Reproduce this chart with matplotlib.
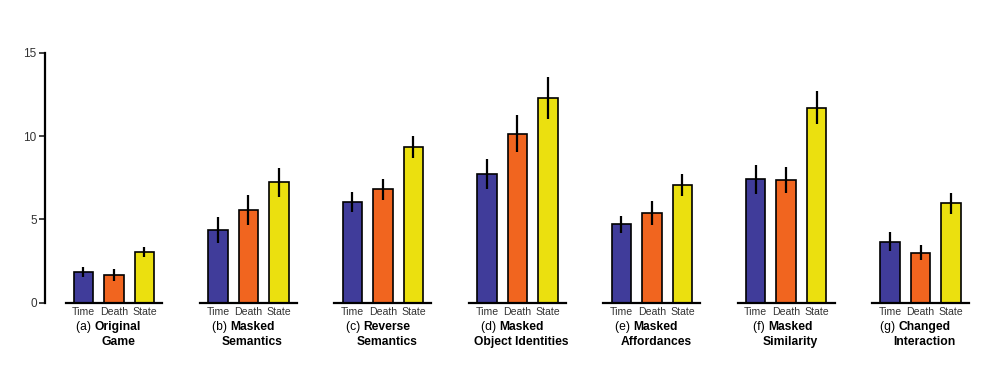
import numpy as np
import matplotlib.pyplot as plt

plt.rcParams['font.family'] = ['Liberation Sans', 'DejaVu Sans']

conditions = ['(a)', '(b)', '(c)', '(d)', '(e)', '(f)', '(g)']
line1 = ['Original', 'Masked', 'Reverse', 'Masked', 'Masked', 'Masked', 'Changed']
line2 = ['Game', 'Semantics', 'Semantics', 'Object Identities', 'Affordances', 'Similarity', 'Interaction']
measures = ['Time', 'Death', 'State']

time_vals = [1.86, 4.36, 6.04, 7.72, 4.70, 7.40, 3.66]
death_vals = [1.66, 5.56, 6.80, 10.14, 5.38, 7.38, 3.00]
state_vals = [3.04, 7.22, 9.34, 12.28, 7.06, 11.70, 5.96]
time_err = [0.30, 0.76, 0.62, 0.92, 0.52, 0.88, 0.56]
death_err = [0.35, 0.90, 0.64, 1.12, 0.74, 0.78, 0.46]
state_err = [0.32, 0.88, 0.66, 1.24, 0.66, 0.98, 0.64]

colors = ['#403c9a', '#f1651f', '#ebe00f']

fig = plt.figure(figsize=(10, 3.66), dpi=100)
ax = fig.add_axes([0.045, 0.173, 0.955, 0.683])

x = np.arange(len(conditions))
step = 0.227
width = 0.145
series = [(time_vals, time_err), (death_vals, death_err), (state_vals, state_err)]
for i, (vals, errs) in enumerate(series):
    pos = x + (i - 1) * step
    ax.bar(pos, vals, width, color=colors[i], edgecolor='black', linewidth=1.2, zorder=2)
    ax.errorbar(pos, vals, yerr=errs, fmt='none', ecolor='black', elinewidth=1.6, capsize=0, zorder=3)

# separate baseline per group
for g in x:
    ax.plot([g - 0.36, g + 0.36], [0, 0], color='black', lw=1.6, clip_on=False, zorder=4)
    for i, m in enumerate(measures):
        ax.text(g + (i - 1) * step, -0.28, m, ha='center', va='top', fontsize=7.6, color='#333333')
    b1 = ax.text(g + 0.03, -1.08, line1[g], ha='center', va='top', fontsize=8.7, fontweight='bold')
    ax.text(g + 0.03, -1.98, line2[g], ha='center', va='top', fontsize=8.7, fontweight='bold')
    ax.annotate(conditions[g] + ' ', xy=(0, 0), xycoords=b1, ha='right', va='bottom', fontsize=8.7)

ax.set_xlim(-0.513, 6.59)
ax.set_ylim(0, 15)
ax.set_yticks([0, 5, 10, 15])
ax.set_xticks([])
for s in ['top', 'right', 'bottom']:
    ax.spines[s].set_visible(False)
ax.spines['left'].set_linewidth(1.6)
ax.tick_params(axis='y', length=4, width=1.3, labelsize=8.5, colors='#333333', pad=2)

fig.savefig('out.png', dpi=100)
